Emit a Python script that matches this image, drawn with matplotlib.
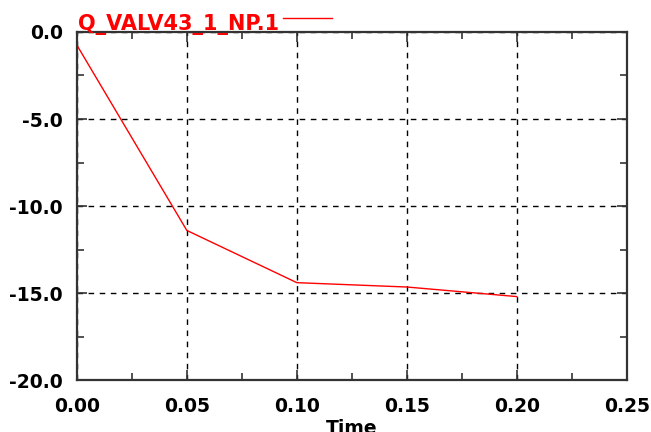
from matplotlib import pyplot as plt
from matplotlib.ticker import MultipleLocator
import numpy as np

# values
time = [0.0, 0.05, 0.10, 0.15, 0.20]
q_valv = [-0.75, -11.4, -14.4, -14.65, -15.2]
series_name = 'Q_VALV43_1_NP.1'

fig = plt.figure(figsize=(6.51, 4.32), dpi=100)
ax = fig.add_axes([0.118, 0.12, 0.845, 0.806])

ax.plot(time, q_valv, color='red', linewidth=1)

ax.set_xlim(0, 0.25)
ax.set_ylim(-20, 0)
ax.xaxis.set_major_locator(MultipleLocator(0.05))
ax.xaxis.set_minor_locator(MultipleLocator(0.025))
ax.yaxis.set_major_locator(MultipleLocator(5))
ax.yaxis.set_minor_locator(MultipleLocator(2.5))
ax.xaxis.set_major_formatter(plt.FormatStrFormatter('%.2f'))
ax.yaxis.set_major_formatter(plt.FormatStrFormatter('%.1f'))

ax.tick_params(which='both', direction='in', top=True, right=True,
               labelsize=13.5, width=1.2, color='#333333')
ax.tick_params(which='major', length=7)
ax.tick_params(which='minor', length=5)
ax.tick_params(axis='x', which='major', pad=12)
ax.tick_params(axis='y', which='major', pad=10)
for lab in ax.get_xticklabels() + ax.get_yticklabels():
    lab.set_fontweight('bold')

ax.grid(which='major', color='black', linestyle=(0, (4, 4)), linewidth=1)
for s in ax.spines.values():
    s.set_linewidth(1.6)
    s.set_color('#333333')

ax.set_xlabel('Time', fontsize=13.5, fontweight='bold', labelpad=2)

# legend-like label above the plot
fig.text(0.12, 0.931, series_name, color='red', fontsize=15,
         fontweight='bold', ha='left', va='baseline')
fig.add_artist(plt.Line2D([0.435, 0.51], [0.958, 0.958], color='red',
                          linewidth=1, transform=fig.transFigure))

plt.savefig('out.png', dpi=100)
